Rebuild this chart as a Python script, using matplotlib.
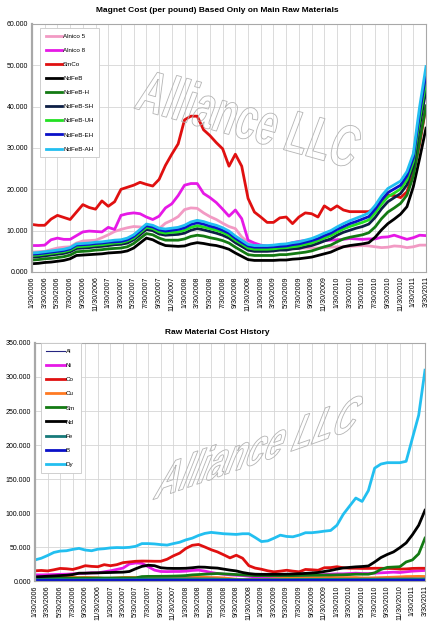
import numpy as np
import matplotlib
matplotlib.use("Agg")
import matplotlib.pyplot as plt
from matplotlib.textpath import TextPath
from matplotlib.font_manager import FontProperties
from matplotlib.patches import PathPatch
from matplotlib.transforms import Affine2D, IdentityTransform

plt.rcParams['font.family'] = ['Liberation Sans', 'DejaVu Sans']

# tick labels, every second month from 1/30/2006 to 3/30/2011
tick_labels = [
    "1/30/2006", "3/30/2006", "5/30/2006", "7/30/2006", "9/30/2006", "11/30/2006",
    "1/30/2007", "3/30/2007", "5/30/2007", "7/30/2007", "9/30/2007", "11/30/2007",
    "1/30/2008", "3/30/2008", "5/30/2008", "7/30/2008", "9/30/2008", "11/30/2008",
    "1/30/2009", "3/30/2009", "5/30/2009", "7/30/2009", "9/30/2009", "11/30/2009",
    "1/30/2010", "3/30/2010", "5/30/2010", "7/30/2010", "9/30/2010", "11/30/2010",
    "1/30/2011", "3/30/2011",
]

# --- magnet cost (monthly) ---
alnico5 = [4.8, 4.9, 5.0, 5.4, 5.8, 6.0, 6.1, 7.0, 7.5, 7.6,
           7.7, 8.3, 9.0, 9.8, 10.3, 10.7, 11.0, 10.9, 10.7, 10.5,
           10.5, 11.8, 12.5, 13.4, 15.1, 15.5, 15.4, 14.3, 13.4, 12.7,
           11.8, 11.0, 10.5, 8.5, 7.2, 6.4, 5.6, 5.3, 5.3, 5.4,
           5.5, 5.6, 5.7, 5.8, 5.8, 5.8, 5.9, 6.0, 6.1, 6.1,
           6.2, 6.3, 6.4, 6.3, 6.1, 5.9, 6.0, 6.3, 6.2, 5.9,
           6.1, 6.5, 6.5]
alnico8 = [6.4, 6.4, 6.5, 7.8, 8.2, 7.9, 7.9, 8.8, 9.7, 9.9,
           9.8, 9.7, 10.8, 10.3, 13.7, 14.1, 14.3, 14.1, 13.3, 12.7,
           13.5, 15.5, 16.5, 18.5, 21.0, 21.4, 21.4, 19.0, 18.0, 16.8,
           15.2, 13.5, 15.0, 12.9, 7.7, 7.0, 6.5, 6.3, 6.3, 6.4,
           6.6, 7.1, 7.4, 7.6, 7.2, 7.4, 7.6, 7.7, 7.8, 7.9,
           8.1, 8.0, 7.9, 8.0, 8.0, 8.4, 8.5, 8.9, 8.4, 7.9,
           8.3, 8.9, 8.8]
smco = [11.5, 11.3, 11.3, 12.8, 13.7, 13.2, 12.7, 14.5, 16.3, 15.6,
        15.2, 17.2, 15.9, 17.0, 20.0, 20.5, 21.0, 21.7, 21.2, 20.8,
        22.4, 25.8, 28.5, 31.0, 36.8, 37.7, 37.7, 34.4, 33.0, 31.3,
        29.8, 25.6, 28.5, 25.6, 17.8, 14.5, 13.3, 12.0, 12.0, 13.1,
        13.3, 11.7, 13.3, 14.3, 14.1, 13.3, 16.0, 15.0, 16.0, 15.0,
        14.6, 14.6, 14.6, 14.6, 15.5, 16.8, 18.6, 18.5, 18.0, 19.4,
        23.8, 31.0, 40.0]
ndfeb = [2.0, 2.1, 2.3, 2.4, 2.6, 2.8, 3.2, 4.0, 4.1, 4.2,
         4.3, 4.4, 4.6, 4.7, 4.8, 5.1, 5.8, 7.0, 8.2, 7.8,
         7.0, 6.4, 6.3, 6.2, 6.3, 6.8, 7.1, 6.9, 6.6, 6.4,
         6.0, 5.5, 4.6, 3.8, 3.0, 2.8, 2.8, 2.8, 2.8, 2.9,
         2.9, 3.1, 3.2, 3.4, 3.6, 4.0, 4.4, 4.8, 5.5, 6.1,
         6.4, 6.6, 6.8, 7.1, 8.4, 10.2, 11.7, 12.8, 14.0, 15.8,
         20.6, 27.5, 34.8]
ndfeb_h = [2.9, 3.0, 3.2, 3.3, 3.5, 3.7, 4.1, 4.9, 5.0, 5.1,
           5.3, 5.4, 5.6, 5.7, 5.8, 6.1, 6.9, 8.1, 9.3, 9.0,
           8.2, 7.7, 7.7, 7.7, 8.0, 8.6, 8.9, 8.7, 8.3, 8.0,
           7.6, 7.0, 6.0, 5.1, 4.2, 4.0, 4.0, 4.0, 4.0, 4.2,
           4.2, 4.4, 4.6, 4.8, 5.1, 5.6, 6.1, 6.5, 7.3, 8.0,
           8.4, 8.7, 9.0, 9.5, 10.9, 12.9, 14.5, 15.5, 16.6, 18.6,
           23.2, 31.6, 40.2]
ndfeb_sh = [3.6, 3.7, 3.9, 4.1, 4.3, 4.5, 4.9, 5.7, 5.8, 5.9,
            6.1, 6.2, 6.4, 6.6, 6.7, 7.0, 7.8, 9.0, 10.3, 10.0,
            9.2, 8.9, 9.0, 9.1, 9.4, 10.1, 10.5, 10.2, 9.8, 9.4,
            8.9, 8.2, 7.1, 6.2, 5.3, 5.0, 5.0, 5.0, 5.1, 5.3,
            5.3, 5.6, 5.7, 6.1, 6.4, 6.9, 7.5, 8.0, 8.9, 9.6,
            10.1, 10.6, 11.0, 11.6, 13.2, 15.3, 17.0, 18.0, 19.0, 21.1,
            25.6, 35.3, 44.0]
ndfeb_uh = [4.0, 4.1, 4.3, 4.5, 4.7, 4.9, 5.3, 6.1, 6.2, 6.3,
            6.5, 6.6, 6.8, 7.0, 7.1, 7.5, 8.2, 9.5, 10.8, 10.5,
            9.7, 9.4, 9.6, 9.7, 10.1, 10.8, 11.2, 10.9, 10.5, 10.1,
            9.6, 8.8, 7.7, 6.8, 5.8, 5.5, 5.5, 5.5, 5.6, 5.8,
            5.9, 6.1, 6.3, 6.7, 7.0, 7.6, 8.2, 8.8, 9.6, 10.4,
            11.0, 11.5, 12.0, 12.6, 14.3, 16.4, 18.2, 19.1, 20.1, 22.3,
            26.7, 37.0, 46.1]
ndfeb_eh = [4.3, 4.4, 4.6, 4.8, 5.0, 5.2, 5.6, 6.5, 6.6, 6.7,
            6.9, 7.0, 7.2, 7.3, 7.4, 7.8, 8.6, 9.9, 11.2, 10.9,
            10.2, 9.9, 10.1, 10.3, 10.7, 11.5, 11.9, 11.6, 11.1, 10.7,
            10.1, 9.4, 8.2, 7.2, 6.3, 6.0, 6.0, 6.0, 6.1, 6.2,
            6.3, 6.6, 6.8, 7.2, 7.6, 8.1, 8.8, 9.4, 10.3, 11.0,
            11.7, 12.2, 12.8, 13.4, 15.2, 17.4, 19.2, 20.1, 21.0, 23.3,
            27.6, 38.5, 47.9]
ndfeb_ah = [4.6, 4.7, 4.9, 5.1, 5.3, 5.5, 5.9, 6.8, 6.9, 7.0,
            7.2, 7.3, 7.5, 7.7, 7.8, 8.2, 9.0, 10.3, 11.6, 11.3,
            10.6, 10.4, 10.6, 10.8, 11.3, 12.1, 12.5, 12.2, 11.7, 11.3,
            10.7, 9.9, 8.7, 7.7, 6.7, 6.4, 6.4, 6.4, 6.5, 6.7,
            6.8, 7.1, 7.3, 7.7, 8.1, 8.7, 9.4, 10.0, 10.9, 11.7,
            12.4, 13.0, 13.6, 14.3, 16.1, 18.4, 20.2, 21.1, 22.0, 24.3,
            28.6, 40.0, 49.7]

# --- raw material cost (monthly) ---
al = [1.1, 1.2, 1.2, 1.3, 1.3, 1.2, 1.2, 1.2, 1.2, 1.2,
      1.2, 1.3, 1.3, 1.3, 1.3, 1.3, 1.2, 1.2, 1.2, 1.1,
      1.1, 1.1, 1.1, 1.2, 1.3, 1.3, 1.4, 1.3, 1.3, 1.2,
      1.0, 0.9, 0.8, 0.7, 0.6, 0.6, 0.7, 0.7, 0.8, 0.8,
      0.9, 0.9, 0.9, 0.9, 1.0, 1.0, 1.0, 1.0, 1.0, 1.0,
      1.0, 1.0, 1.1, 1.1, 1.0, 1.0, 1.1, 1.1, 1.1, 1.1,
      1.2, 1.2, 1.2]
ni = [9.0, 9.0, 9.2, 9.5, 9.8, 10.0, 10.5, 11.0, 11.5, 12.0,
      12.0, 13.5, 15.0, 17.0, 19.0, 25.0, 26.5, 26.0, 21.0, 16.0,
      14.0, 13.8, 14.0, 14.0, 14.5, 15.5, 16.0, 14.5, 12.5, 11.0,
      10.0, 9.0, 8.5, 8.0, 7.0, 6.0, 5.8, 6.0, 6.3, 6.5,
      7.0, 7.5, 8.0, 8.5, 8.5, 9.0, 9.5, 10.0, 10.5, 10.5,
      11.0, 11.5, 11.0, 11.0, 11.5, 12.0, 12.5, 13.0, 12.5, 13.5,
      14.5, 15.0, 15.5]
co = [15.0, 15.5, 14.8, 16.5, 18.5, 18.0, 17.0, 19.5, 22.5, 21.5,
      21.0, 24.0, 22.5, 24.0, 27.0, 28.0, 29.0, 29.3, 29.2, 29.0,
      29.0, 32.0, 37.0, 41.0, 48.0, 52.5, 53.7, 50.0, 46.0, 42.8,
      38.5, 34.0, 37.9, 33.5, 22.5, 19.0, 17.3, 15.0, 13.5, 14.5,
      15.8, 14.5, 13.5, 17.0, 16.5, 15.8, 19.5, 19.7, 21.0, 19.5,
      18.7, 18.7, 18.5, 18.5, 18.7, 18.7, 18.5, 18.3, 17.5, 17.8,
      18.5, 18.7, 18.7]
cu = [3.3, 3.5, 3.8, 4.5, 5.4, 5.3, 5.3, 5.1, 5.3, 5.0,
      4.7, 3.9, 4.1, 4.5, 5.3, 5.3, 5.1, 5.3, 5.3, 5.4,
      5.1, 4.8, 5.0, 5.1, 5.4, 5.9, 5.7, 5.4, 5.1, 5.0,
      4.5, 3.6, 2.6, 2.1, 2.3, 2.3, 2.4, 2.7, 3.2, 3.5,
      3.9, 4.2, 4.4, 4.5, 4.8, 5.0, 5.1, 5.3, 5.1, 5.1,
      5.0, 5.1, 4.5, 4.5, 4.7, 5.0, 5.3, 5.6, 6.0, 6.5,
      6.6, 6.8, 6.6]
sm = [4.0, 4.0, 4.0, 4.1, 4.1, 4.2, 4.2, 4.3, 4.3, 4.3,
      4.4, 4.4, 4.4, 4.5, 4.5, 4.5, 4.6, 6.5, 6.8, 6.8,
      6.9, 7.0, 7.2, 7.5, 8.0, 9.0, 9.5, 10.0, 10.5, 11.0,
      10.5, 10.0, 9.5, 9.0, 8.5, 8.0, 8.0, 8.0, 8.0, 8.0,
      8.0, 8.0, 8.2, 8.3, 8.5, 8.5, 8.7, 8.8, 9.0, 9.2,
      9.5, 10.0, 10.0, 10.0, 12.0, 17.0, 20.0, 20.5, 21.0, 28.0,
      31.0, 40.0, 63.0]
nd = [6.0, 6.5, 7.0, 7.5, 8.0, 8.5, 9.5, 11.5, 11.5, 11.8,
      12.0, 12.3, 12.5, 12.8, 13.0, 14.0, 18.0, 21.5, 23.2, 22.5,
      19.5, 18.7, 18.5, 18.5, 18.7, 19.5, 20.5, 20.3, 19.5, 19.0,
      17.5, 16.0, 14.8, 12.5, 10.9, 10.0, 9.8, 9.8, 9.9, 9.9,
      10.0, 10.3, 10.7, 11.2, 11.8, 12.5, 14.0, 15.5, 17.5, 19.2,
      20.0, 20.8, 21.3, 22.1, 28.0, 34.5, 39.0, 42.8, 49.0, 56.0,
      68.0, 82.0, 104.0]
fe = [2.0, 2.0, 2.1, 2.1, 2.2, 2.2, 2.2, 2.3, 2.3, 2.3,
      2.4, 2.4, 2.4, 2.5, 2.6, 2.6, 2.7, 2.7, 2.8, 2.8,
      2.9, 2.9, 3.0, 3.0, 3.1, 3.1, 3.1, 3.0, 3.0, 2.8,
      2.5, 2.3, 2.1, 2.0, 2.0, 2.0, 2.0, 2.1, 2.1, 2.1,
      2.2, 2.2, 2.3, 2.3, 2.4, 2.4, 2.5, 2.5, 2.5, 2.6,
      2.6, 2.6, 2.7, 2.7, 2.7, 2.8, 2.8, 2.8, 2.9, 2.9,
      3.0, 3.0, 3.0]
b = [0.8, 0.8, 0.8, 0.8, 0.8, 0.8, 0.8, 0.8, 0.8, 0.8,
     0.8, 0.8, 0.8, 0.8, 0.8, 0.9, 0.9, 0.9, 0.9, 0.9,
     0.9, 0.9, 0.9, 0.9, 0.9, 0.9, 0.9, 0.9, 0.9, 0.9,
     0.9, 0.9, 0.9, 0.9, 0.9, 0.9, 0.9, 0.9, 0.9, 0.9,
     0.9, 0.9, 0.9, 0.9, 0.9, 0.9, 0.9, 0.9, 0.9, 0.9,
     1.0, 1.0, 1.0, 1.0, 1.0, 1.0, 1.0, 1.0, 1.0, 1.0,
     1.0, 1.0, 1.0]
dy = [31.0, 33.5, 37.5, 42.0, 44.0, 44.5, 46.5, 48.0, 45.5, 44.5,
      46.8, 47.5, 48.7, 49.2, 49.0, 49.5, 51.0, 55.0, 55.0, 54.5,
      53.5, 52.8, 55.0, 57.0, 60.5, 63.0, 67.0, 70.0, 71.5, 70.5,
      69.5, 69.0, 68.5, 69.5, 69.5, 64.0, 58.0, 59.0, 63.0, 67.4,
      65.5, 65.0, 67.5, 71.0, 71.0, 72.0, 73.3, 74.3, 82.0, 98.0,
      110.0, 122.0, 117.0, 133.0, 166.0, 172.0, 174.0, 174.0, 174.0, 176.0,
      210.0, 244.0, 310.0]

months = np.arange(len(ndfeb))

magnet_series = [
    ("Alnico 5", alnico5, "#f29ac4", 2.0),
    ("Alnico 8", alnico8, "#e619e6", 2.0),
    ("SmCo", smco, "#e01010", 2.0),
    ("NdFeB", ndfeb, "#000000", 2.0),
    ("NdFeB-H", ndfeb_h, "#137a13", 2.0),
    ("NdFeB-SH", ndfeb_sh, "#0d1f45", 2.0),
    ("NdFeB-UH", ndfeb_uh, "#22e022", 2.0),
    ("NdFeB-EH", ndfeb_eh, "#0a10c8", 2.0),
    ("NdFeB-AH", ndfeb_ah, "#22bff0", 2.0),
]
raw_series = [
    ("Al", al, "#252580", 0.8),
    ("Ni", ni, "#e619e6", 2.0),
    ("Co", co, "#e01010", 2.0),
    ("Cu", cu, "#ff7a22", 2.0),
    ("Sm", sm, "#137a13", 2.0),
    ("Nd", nd, "#000000", 2.0),
    ("Fe", fe, "#177a7a", 2.0),
    ("B", b, "#0a10c8", 2.0),
    ("Dy", dy, "#22bff0", 2.0),
]


def style_axes(ax, ymax, ystep):
    ax.set_xlim(months[0], months[-1])
    ax.set_ylim(0, ymax)
    ax.set_xticks(months[::2])
    ax.set_xticklabels(tick_labels, rotation=90, fontsize=5)
    yt = np.arange(0, ymax + 1, ystep)
    ax.set_yticks(yt)
    ax.set_yticklabels([f"{v:.3f}" for v in yt], fontsize=5)
    ax.grid(True, color="#d6d6d6", lw=0.6)
    ax.set_axisbelow(True)
    ax.tick_params(length=0, pad=3)
    for s in ax.spines.values():
        s.set_color("#a8a8a8")
        s.set_linewidth(0.8)
    ax.spines["left"].set_linewidth(1.6)


def watermark(fig, origin, base, up):
    fp = FontProperties(family="Liberation Sans", weight="bold")
    tp = TextPath((0, 0), "Alliance LLC", size=1, prop=fp)
    ext = tp.get_extents()
    m = np.array([[base[0], up[0], origin[0]],
                  [base[1], up[1], origin[1]],
                  [0, 0, 1]])
    tr = Affine2D().scale(1 / ext.x1, 1 / 0.716) + Affine2D(m)
    patch = PathPatch(tr.transform_path(tp), facecolor="none",
                      edgecolor="#b4b4b4", lw=0.6, transform=IdentityTransform())
    fig.add_artist(patch)


def add_legend(ax, anchor, hl):
    leg = ax.legend(loc="upper left", bbox_to_anchor=anchor, fontsize=4.5,
                    handlelength=hl, handletextpad=0.1, labelspacing=1.4,
                    borderpad=0.9, borderaxespad=0, fancybox=False, framealpha=1)
    leg.get_frame().set_edgecolor("#c8c8c8")
    leg.get_frame().set_linewidth(0.6)


fig = plt.figure(figsize=(4.34, 6.25), dpi=100)
W, H = 434, 625

ax1 = fig.add_axes([32 / W, 1 - 272 / H, 394 / W, 248 / H])
for name, vals, col, lw in magnet_series:
    ax1.plot(months, vals, color=col, lw=lw, label=name)
style_axes(ax1, 60, 10)
add_legend(ax1, (0.02, 0.985), 2.7)

ax2 = fig.add_axes([35 / W, 1 - 581 / H, 390 / W, 238 / H])
for name, vals, col, lw in raw_series:
    ax2.plot(months, vals, color=col, lw=lw, label=name)
style_axes(ax2, 350, 50)
add_legend(ax2, (0.015, 1.0), 3.0)

fig.text(0.501, 1 - 11 / H, "Magnet Cost (per pound) Based Only on Main Raw Materials",
         ha="center", va="center", fontsize=6.0, fontweight="bold")
fig.text(0.5, 1 - 332 / H, "Raw Material Cost History",
         ha="center", va="center", fontsize=6.0, fontweight="bold")

watermark(fig, (133, H - 108), (217, -60), (15, 40))
watermark(fig, (152, H - 500), (200, 70), (15, 38))

fig.savefig("out.png", dpi=100)
